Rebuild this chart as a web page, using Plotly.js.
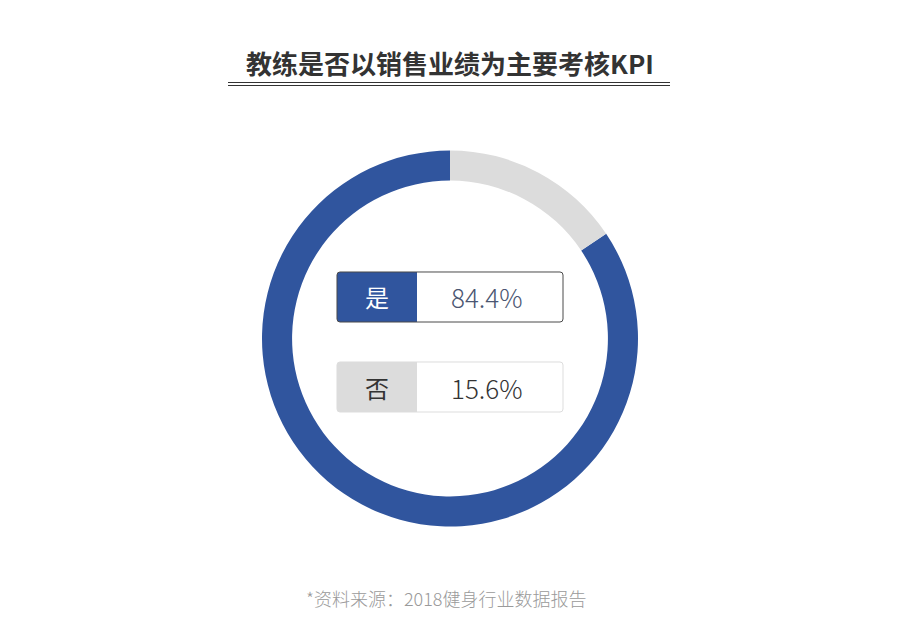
<!DOCTYPE html>
<html>
<head>
<meta charset="utf-8">
<script src="https://cdn.plot.ly/plotly-3.0.1.min.js"></script>
<style>
  html, body { margin: 0; padding: 0; background: #ffffff; }
  #chart { width: 900px; height: 627px; }
</style>
</head>
<body>
<div id="chart"></div>
<script>
var labels = ['是', '否'];
var values = [84.4, 15.6];
var chartTitle = '教练是否以销售业绩为主要考核KPI';
var sourceNote = '*资料来源：2018健身行业数据报告';

var W = 900, H = 627;
var font = '"Noto Sans CJK SC", "Noto Sans", sans-serif';
var sliceColors = ['#30559e', '#dcdcdc'];

// pixel -> paper
function px(x) { return x / W; }
function py(y) { return 1 - y / H; }

// rounded rect path in paper coords; corners = [tl, tr, br, bl] radius px
function rrect(x0, y0, x1, y1, c) {
  function P(x, y) { return px(x).toFixed(5) + ',' + py(y).toFixed(5); }
  var p = 'M' + P(x0 + c[0], y0);
  p += ' L' + P(x1 - c[1], y0) + ' Q' + P(x1, y0) + ' ' + P(x1, y0 + c[1]);
  p += ' L' + P(x1, y1 - c[2]) + ' Q' + P(x1, y1) + ' ' + P(x1 - c[2], y1);
  p += ' L' + P(x0 + c[3], y1) + ' Q' + P(x0, y1) + ' ' + P(x0, y1 - c[3]);
  p += ' L' + P(x0, y0 + c[0]) + ' Q' + P(x0, y0) + ' ' + P(x0 + c[0], y0) + ' Z';
  return p;
}

// the grey "否" slice sits just clockwise of 12 o'clock
var noShare = values[1] / (values[0] + values[1]) * 360;

var trace = {
  type: 'pie',
  labels: labels,
  values: values,
  hole: 0.84,
  sort: false,
  direction: 'clockwise',
  rotation: noShare,
  textinfo: 'none',
  hoverinfo: 'label+percent',
  marker: { colors: sliceColors, line: { width: 0 } },
  domain: { x: [px(450 - 188), px(450 + 188)], y: [py(338.5 + 188), py(338.5 - 188)] },
  showlegend: false
};

var shapes = [
  // double underline under the title
  { type: 'line', xref: 'paper', yref: 'paper', x0: px(228), x1: px(670), y0: py(82.5), y1: py(82.5),
    line: { color: '#333333', width: 1.2 } },
  { type: 'line', xref: 'paper', yref: 'paper', x0: px(228), x1: px(670), y0: py(85.5), y1: py(85.5),
    line: { color: '#333333', width: 1.2 } }
];
var annotations = [];

var boxTops = [272, 362];
var boxBorder = ['#4a4a4a', '#dddddd'];
var labelColor = ['#ffffff', '#333333'];
var valueColor = ['#4b5672', '#333333'];

for (var i = 0; i < labels.length; i++) {
  var t = boxTops[i], b = t + 50;
  shapes.push({ type: 'path', xref: 'paper', yref: 'paper', path: rrect(337, t, 563, b, [3, 3, 3, 3]),
    fillcolor: '#ffffff', line: { width: 0 } });
  shapes.push({ type: 'path', xref: 'paper', yref: 'paper', path: rrect(337, t, 417, b, [3, 0, 0, 3]),
    fillcolor: sliceColors[i], line: { width: 0 } });
  shapes.push({ type: 'path', xref: 'paper', yref: 'paper', path: rrect(337, t, 563, b, [3, 3, 3, 3]),
    fillcolor: 'rgba(0,0,0,0)', line: { color: boxBorder[i], width: 1 } });
  annotations.push({ xref: 'paper', yref: 'paper', x: px(377), y: py(t + 25), text: labels[i],
    showarrow: false, xanchor: 'center', yanchor: 'middle',
    font: { family: font, size: 24, color: labelColor[i] } });
  annotations.push({ xref: 'paper', yref: 'paper', x: px(487), y: py(t + 25), text: values[i].toFixed(1) + '%',
    showarrow: false, xanchor: 'center', yanchor: 'middle',
    font: { family: font, size: 26, weight: 300, color: valueColor[i] } });
}

annotations.push({ xref: 'paper', yref: 'paper', x: px(446), y: py(598), text: sourceNote,
  showarrow: false, xanchor: 'center', yanchor: 'middle',
  font: { family: font, size: 18, weight: 300, color: '#9a9a9a' } });

var layout = {
  width: W,
  height: H,
  margin: { l: 0, r: 0, t: 0, b: 0 },
  paper_bgcolor: '#ffffff',
  title: {
    text: chartTitle,
    x: 0.5, xanchor: 'center',
    y: py(65), yanchor: 'middle',
    font: { family: font, size: 26, weight: 700, color: '#333333' }
  },
  shapes: shapes,
  annotations: annotations
};

Plotly.newPlot('chart', [trace], layout, { displayModeBar: false, staticPlot: true });
</script>
</body>
</html>
